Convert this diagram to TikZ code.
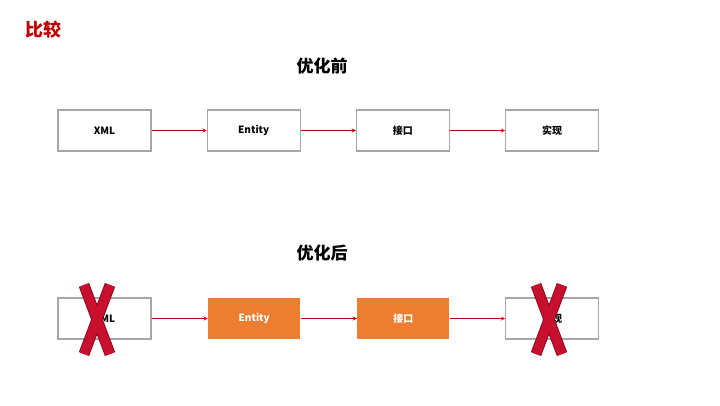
\documentclass[tikz,border=0pt]{standalone}
\usepackage{fontspec}
\setmainfont{Noto Sans CJK SC}
\usetikzlibrary{positioning}
\definecolor{boxGray}{RGB}{166,166,166}
\definecolor{lineRed}{RGB}{192,0,0}
\definecolor{boxOrange}{RGB}{237,125,49}
\definecolor{crossRed}{RGB}{200,16,46}
\tikzstyle{arrow} = [thick,->,>=stealth, draw=lineRed]
\tikzstyle{basic} = [rectangle, minimum width=93pt, minimum height=41pt, text centered, draw=boxGray, line width=1.2pt, fill=white, font=\bfseries\fontsize{10}{12}\selectfont]
\tikzstyle{orangestyle} = [draw=none, fill=boxOrange, text=white]
\tikzstyle{heading} = [font=\bfseries\fontsize{17}{20}\selectfont]
\tikzstyle{crossbar} = [line width=11pt, draw=crossRed!70!black]
\tikzstyle{crossfill} = [line width=9pt, draw=crossRed]
\begin{document}
\begin{tikzpicture}[x=1pt, y=-1pt]
\useasboundingbox (0,0) rectangle (720,405);

\node (title) [anchor=west, text=lineRed, font=\bfseries\fontsize{18}{20}\selectfont] at (22,30) {比较};

\node (before) [heading] at (322,66) {优化前};
\node (xml1) [basic] at (104.5,130.5) {XML};
\node (ent1) [basic, right=55pt of xml1] {Entity};
\node (api1) [basic, right=55pt of ent1] {接口};
\node (imp1) [basic, right=55pt of api1] {实现};
\draw [arrow] (xml1) -- (ent1);
\draw [arrow] (ent1) -- (api1);
\draw [arrow] (api1) -- (imp1);

\node (after) [heading] at (322,253) {优化后};
\node (xml2) [basic] at (104.5,318.5) {XML};
\node (ent2) [basic, orangestyle, minimum width=92pt, right=56pt of xml2] {Entity};
\node (api2) [basic, orangestyle, minimum width=92pt, right=56pt of ent2] {接口};
\node (imp2) [basic, right=55pt of api2] {实现};
\draw [arrow] (xml2) -- (ent2);
\draw [arrow] (ent2) -- (api2);
\draw [arrow] (api2) -- (imp2);

% crosses
\foreach \cx in {97, 549} {
  \draw [crossbar] (\cx-13,285) -- (\cx+13,354);
  \draw [crossbar] (\cx+13,285) -- (\cx-13,354);
  \draw [crossfill] (\cx-13,285) -- (\cx+13,354);
  \draw [crossfill] (\cx+13,285) -- (\cx-13,354);
}
\end{tikzpicture}
\end{document}
